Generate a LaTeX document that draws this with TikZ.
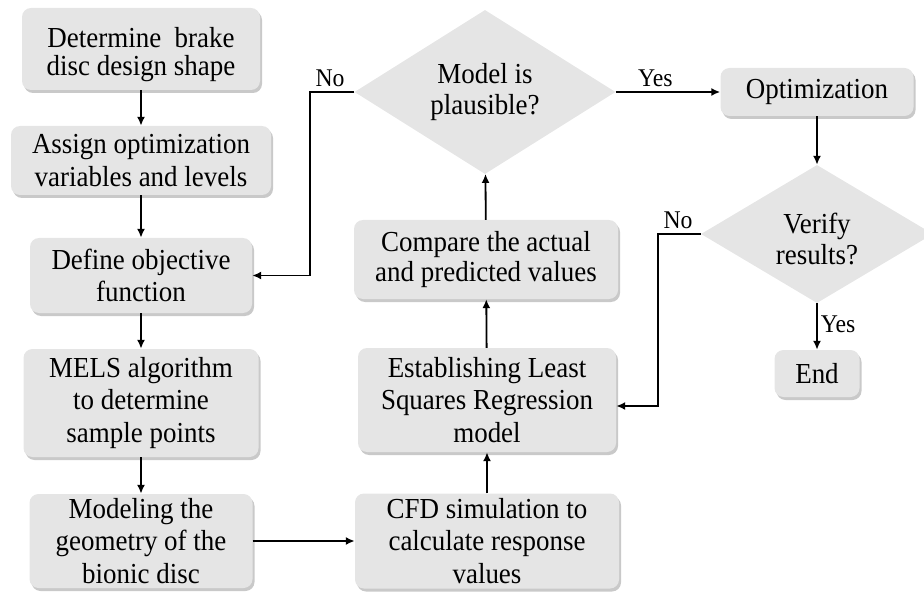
\documentclass[tikz,border=0pt]{standalone}
\usepackage{fontspec}
\setmainfont{Liberation Serif}[FakeStretch=0.93]
\usetikzlibrary{arrows.meta,shapes.geometric,shadows}
\definecolor{boxgray}{RGB}{229,229,229}
\def\flowfont{\fontsize{29}{32.5}\selectfont}
\def\tagfont{\fontsize{25.5}{28}\selectfont}
\tikzset{
	stepbox/.style={rectangle, rounded corners=9pt, fill=boxgray, align=center, font=\flowfont, inner sep=2pt,
		drop shadow={shadow xshift=2pt, shadow yshift=-3pt, opacity=0.3, fill=black!70}},
	query/.style={diamond, aspect=1.65, fill=boxgray, align=center, font=\flowfont, inner sep=0pt},
	flow/.style={line width=1.8pt, -{Latex[length=9pt,width=8pt]}},
	tag/.style={font=\tagfont, inner sep=0pt}
}

\begin{document}
\begin{tikzpicture}[x=1pt, y=-1pt]
		%%%%% START %%%%%
		\useasboundingbox (0, 0) rectangle (924, 596);
		
		\node[stepbox, minimum width=238pt, minimum height=82pt] (shape) at (141, 49) {\rule{0pt}{32pt}Determine\ \ brake\\[-4.5pt]disc design shape};
		\node[stepbox, minimum width=260pt, minimum height=69pt] (assign) at (141, 160.5) {Assign optimization\\variables and levels};
		\node[stepbox, minimum width=222pt, minimum height=75pt] (objective) at (141, 275.5) {Define objective\\function};
		\node[stepbox, minimum width=235pt, minimum height=108pt] (mels) at (141, 403) {MELS algorithm\\to determine\\sample points};
		\node[stepbox, minimum width=223pt, minimum height=94pt] (modeling) at (141, 541) {Modeling the\\geometry of the\\bionic disc};
		
		\node[stepbox, minimum width=264pt, minimum height=95pt] (cfd) at (487, 541) {CFD simulation to\\calculate response\\values};
		\node[stepbox, minimum width=258pt, minimum height=104pt] (least) at (487, 400) {Establishing Least\\Squares Regression\\model};
		\node[stepbox, minimum width=264pt, minimum height=79pt] (compare) at (486, 259.5) {Compare the actual\\[-2.5pt]and predicted values};
		\node[query, minimum width=261pt, minimum height=164pt] (plausible) at (485, 92) {Model is\\[-2pt]plausible?};
		
		\node[stepbox, minimum width=193pt, minimum height=48pt] (optim) at (817, 92) {Optimization};
		\node[query, minimum width=232pt, minimum height=138pt] (verify) at (817, 234) {\rule{0pt}{30pt}Verify\\[-2pt]results?};
		\node[stepbox, minimum width=85pt, minimum height=47pt] (finish) at (817, 373.5) {End};
		
		\draw[flow] (shape) -- (assign);
		\draw[flow] (assign) -- (objective);
		\draw[flow] (objective) -- (mels);
		\draw[flow] (mels) -- (modeling);
		\draw[flow] (modeling) -- (cfd);
		\draw[flow] (cfd) -- (least);
		\draw[flow] (least) -- (compare);
		\draw[flow] (compare) -- (plausible);
		\draw[flow] (plausible) -- node[tag, above=4pt, pos=0.38] {Yes} (optim);
		\draw[flow] (plausible.west) -- node[tag, above=4pt, pos=0.55] {No} ++(-44, 0) |- (objective.east);
		\draw[flow] (optim) -- (verify);
		\draw[flow] (verify) -- node[tag, right=3pt, pos=0.45] {Yes} (finish);
		\draw[flow] (verify.west) -- node[tag, above=4pt, pos=0.53] {No} ++(-43, 0) |- ([yshift=-6pt]least.east);
		%%%%% END %%%%%
\end{tikzpicture}
\end{document}
